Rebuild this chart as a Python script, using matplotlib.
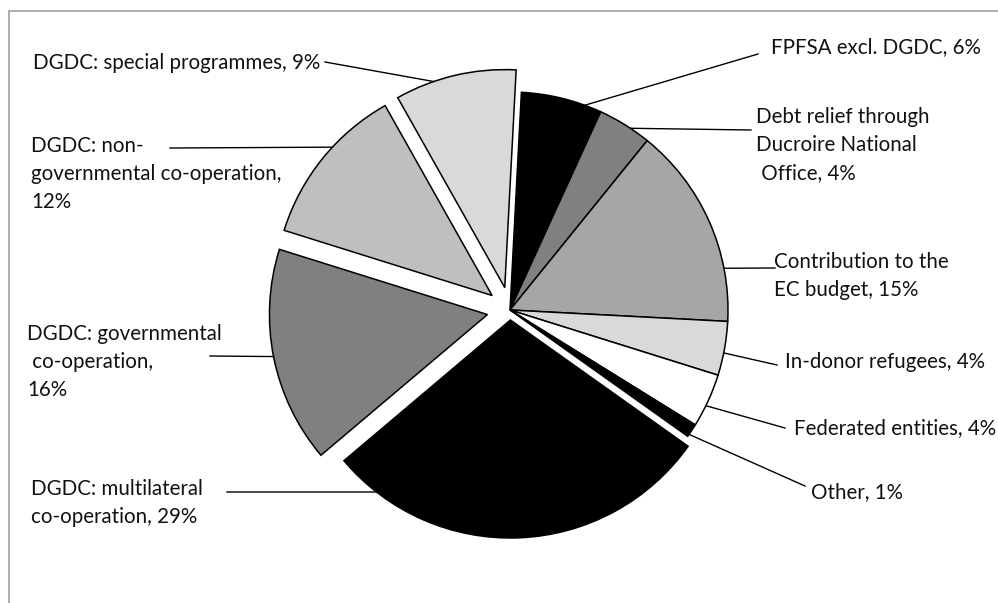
import math
import matplotlib
matplotlib.use("Agg")
import matplotlib.pyplot as plt
from matplotlib.patches import Rectangle

# data
labels = ["FPFSA excl. DGDC, 6%",
          "Debt relief through\nDucroire National\n Office, 4%",
          "Contribution to the\nEC budget, 15%",
          "In-donor refugees, 4%",
          "Federated entities, 4%",
          "Other, 1%",
          "DGDC: multilateral\nco-operation, 29%",
          "DGDC: governmental\n co-operation,\n16%",
          "DGDC: non-\ngovernmental co-operation,\n12%",
          "DGDC: special programmes, 9%"]
shares = [6, 4, 15, 4, 4, 1, 29, 16, 12, 9]
colors = ["#000000", "#808080", "#a6a6a6", "#d9d9d9", "#ffffff",
          "#000000", "#000000", "#808080", "#bfbfbf", "#d9d9d9"]
# pull-out distance in pixels
explode = [0, 0, 0, 0, 0, 0, 10, 23, 23, 23]

# layout (pixel coords, y from top)
W, H = 998, 603
text_pos = [(771, 47), (756, 145), (774, 276), (785, 362), (794, 428),
            (811, 492), (31, 503), (27, 362), (31, 174), (33, 63)]
line_end = [(758, 54), (751, 130), (775, 268), (777, 365), (785, 428),
            (805, 486), (227, 492), (210, 356), (170, 148), (325, 62)]
anchor_frac = [0.79, 0.62, 0.74, 0.58, 0.60, 0.83, 0.886, 0.505, 0.59, 0.32]

plt.rcParams['font.family'] = ['Lato', 'DejaVu Sans']

fig = plt.figure(figsize=(W / 100, H / 100), dpi=100)
ax = fig.add_axes([0, 0, 1, 1])

R = 218
wedges, _ = ax.pie(shares, colors=colors, explode=explode, startangle=87,
                   counterclock=False, radius=R, center=(510, H - 310),
                   wedgeprops=dict(edgecolor="black", linewidth=1.1))
ax.set_xlim(0, W)
ax.set_ylim(0, H)
ax.set_aspect("equal")
ax.axis("off")

for w, lab, (tx, ty), (lx, ly), f in zip(wedges, labels, text_pos, line_end, anchor_frac):
    a = math.radians(w.theta2 - f * (w.theta2 - w.theta1))
    cx, cy = w.center
    px, py = cx + R * math.cos(a), cy + R * math.sin(a)
    ax.plot([lx, px], [H - ly, py], color="black", lw=1.0, zorder=3)
    ax.text(tx, H - ty, lab, ha="left", va="center", fontsize=14.8,
            color="#111111", linespacing=1.5)

# outer frame (runs off the right and bottom edges)
ax.add_patch(Rectangle((9.5, -20), W + 40, H - 11 + 20, fill=False,
                       edgecolor="#a0a0a0", lw=1.2, clip_on=False))

fig.savefig("out.png", dpi=100)
